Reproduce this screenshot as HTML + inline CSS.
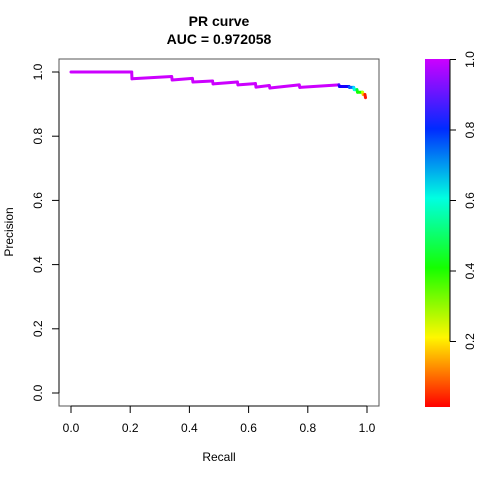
<!DOCTYPE html>
<html><head><meta charset="utf-8"><style>
body{margin:0;background:#fff}
svg text{font-family:"Liberation Sans",sans-serif;fill:#000}
</style></head><body>
<svg id="chart" width="480" height="480" viewBox="0 0 480 480" xmlns="http://www.w3.org/2000/svg">
<defs><linearGradient id="cb" x1="0" y1="1" x2="0" y2="0">
<stop offset="0" stop-color="hsl(0,100%,50%)"/><stop offset="0.2" stop-color="hsl(58,100%,50%)"/><stop offset="0.4" stop-color="hsl(115,100%,50%)"/><stop offset="0.6" stop-color="hsl(173,100%,50%)"/><stop offset="0.8" stop-color="hsl(230,100%,50%)"/><stop offset="1" stop-color="hsl(288,100%,50%)"/>
</linearGradient></defs>
<text x="219" y="26" font-size="14" font-weight="bold" text-anchor="middle">PR curve</text>
<text x="219" y="44" font-size="14" font-weight="bold" text-anchor="middle">AUC = 0.972058</text>
<rect x="59" y="59" width="320" height="347" fill="none" stroke="#555" stroke-width="1"/>
<g id="xaxis"></g>
<g id="yaxis"></g>
<text x="219" y="461" font-size="12" text-anchor="middle">Recall</text>
<text transform="translate(13,232) rotate(-90)" font-size="12" text-anchor="middle">Precision</text>
<g id="curve"></g>
<rect x="425" y="59" width="25" height="348" fill="url(#cb)"/>
<g id="cbaxis"></g>
</svg>
<script>
const recall =    [0.0, 0.205, 0.206, 0.34, 0.342, 0.41, 0.412, 0.478, 0.48, 0.562, 0.564, 0.623, 0.625, 0.67, 0.672, 0.771, 0.773, 0.905, 0.907, 0.939, 0.941, 0.955, 0.957, 0.966, 0.968, 0.985, 0.987, 0.993, 0.995];
const precision = [1.0, 1.0, 0.979, 0.986, 0.975, 0.980, 0.969, 0.972, 0.963, 0.969, 0.960, 0.964, 0.953, 0.958, 0.950, 0.960, 0.952, 0.960, 0.955, 0.955, 0.952, 0.952, 0.945, 0.945, 0.937, 0.937, 0.930, 0.930, 0.920];
const threshold = [1.0, 1.0, 1.0, 1.0, 1.0, 1.0, 1.0, 1.0, 1.0, 1.0, 1.0, 1.0, 1.0, 1.0, 1.0, 1.0, 1.0, 1.0, 0.9, 0.85, 0.8, 0.75, 0.65, 0.6, 0.45, 0.4, 0.25, 0.15, 0.02];
const xTicks = [0, 0.2, 0.4, 0.6, 0.8, 1.0];
const xTickLabels = ["0.0","0.2","0.4","0.6","0.8","1.0"];
const yTicks = [0, 0.2, 0.4, 0.6, 0.8, 1.0];
const yTickLabels = ["0.0","0.2","0.4","0.6","0.8","1.0"];
const cbTicks = [0.2, 0.4, 0.6, 0.8, 1.0];
const cbTickLabels = ["0.2","0.4","0.6","0.8","1.0"];

const NS="http://www.w3.org/2000/svg";
const sx = v => 71 + v*296;
const sy = v => 393 - v*321;
const cy = v => 412 - v*352.5;
const col = t => `hsl(${288*t},100%,50%)`;
function mk(tag, attrs, parent){const e=document.createElementNS(NS,tag);for(const k in attrs)e.setAttribute(k,attrs[k]);parent.appendChild(e);return e;}

const xa=document.getElementById('xaxis');
mk('line',{x1:sx(0),x2:sx(1),y1:406,y2:406,stroke:'#000'},xa);
xTicks.forEach((v,i)=>{
  const l=mk('line',{x1:sx(v),x2:sx(v),y1:406,y2:413,stroke:'#000'},xa);
  
  
  const t=mk('text',{x:sx(v),y:432,'font-size':12,'text-anchor':'middle'},xa);
  t.textContent=xTickLabels[i];
  
  
});
const ya=document.getElementById('yaxis');
mk('line',{x1:59,x2:59,y1:sy(0),y2:sy(1),stroke:'#000'},ya);
yTicks.forEach((v,i)=>{
  const l=mk('line',{x1:52,x2:59,y1:sy(v),y2:sy(v),stroke:'#000'},ya);
  
  
  const t=mk('text',{transform:`translate(42,${sy(v)}) rotate(-90)`,'font-size':12,'text-anchor':'middle'},ya);
  t.textContent=yTickLabels[i];
  
  
});
const cv=document.getElementById('curve');
for(let i=0;i<recall.length-1;i++){
  const s=mk('line',{x1:sx(recall[i]),y1:sy(precision[i]),x2:sx(recall[i+1]),y2:sy(precision[i+1]),stroke:col(threshold[i+1]),'stroke-width':3,'stroke-linecap':'round'},cv);
  
  
}
const ca=document.getElementById('cbaxis');
mk('line',{x1:450,x2:450,y1:cy(0.2),y2:cy(1),stroke:'#000'},ca);
cbTicks.forEach((v,i)=>{
  const l=mk('line',{x1:450,x2:456,y1:cy(v),y2:cy(v),stroke:'#000'},ca);
  
  
  const t=mk('text',{transform:`translate(474,${cy(v)}) rotate(-90)`,'font-size':12,'text-anchor':'middle'},ca);
  t.textContent=cbTickLabels[i];
  
  
});
</script>
</body></html>
